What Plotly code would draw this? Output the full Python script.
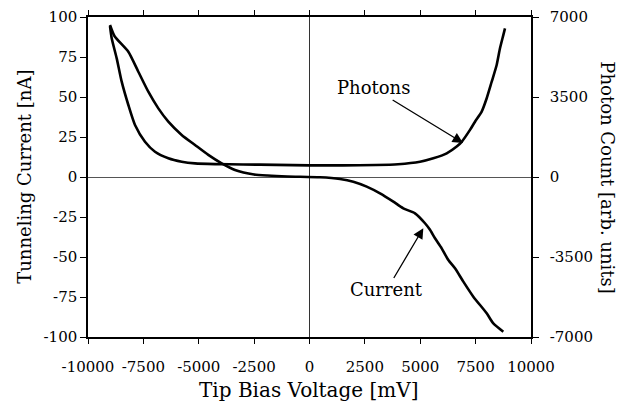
import plotly.graph_objects as go

# Tip bias voltage [mV] and tunneling current [nA]
current_v = [-9007, -8800, -8179, -7728, -7277, -6825, -6374, -5770, -5169, -4569,
             -3964, -3363, -2500, -1900, -1000, 474, 1377, 1978, 2582, 3183, 3784,
             4235, 4763, 5214, 5440, 5666, 5968, 6268, 6569, 6945, 7396, 8000,
             8299, 8750]
current_na = [95, 88, 78.3, 65.8, 53.3, 42.9, 34.6, 26.3, 20, 13.8,
              8.5, 4.4, 1.6, 0.9, 0.3, -0.2, -1.25, -2.9, -6, -10.2, -15.4,
              -19.6, -22.7, -28.9, -33, -38.3, -44.6, -51.9, -57.1, -65.4, -74.8, -85.2,
              -91.5, -96.7]

# Tip bias voltage [mV] and photon count [arb. units]
photon_v = [-9007, -8930, -8704, -8479, -8179, -7878, -7427, -6975, -6374, -5770,
            -5169, -4266, -3000, -1500, 0, 1500, 3000, 4000, 4989, 5590,
            6194, 6645, 6871, 7246, 7472, 7774, 8000, 8226, 8450, 8600, 8750, 8826]
photon_counts = [6600, 6070, 5190, 4170, 3150, 2275, 1540, 1105, 820, 670,
                 595, 565, 550, 530, 510, 510, 525, 560, 670, 820,
                 1035, 1330, 1540, 2060, 2420, 2860, 3445, 4170, 4900, 5630, 6210, 6500]

x_ticks = [-10000, -7500, -5000, -2500, 0, 2500, 5000, 7500, 10000]
x_tick_labels = ["-10000", "-7500", "-5000", "-2500", "0", "2500", "5000", "7500", "10000"]
y_ticks = [100, 75, 50, 25, 0, -25, -50, -75, -100]
y_tick_labels = ["100", "75", "50", "25", "0", "-25", "-50", "-75", "-100"]
y2_ticks = [7000, 3500, 0, -3500, -7000]
y2_tick_labels = ["7000", "3500", "0", "-3500", "-7000"]

FONT = "DejaVu Serif"

fig = go.Figure()
fig.add_trace(go.Scatter(x=current_v, y=current_na, mode="lines",
                         line=dict(color="black", width=2.6, shape="spline", smoothing=0.6),
                         name="Current", showlegend=False))
fig.add_trace(go.Scatter(x=photon_v, y=photon_counts, mode="lines", yaxis="y2",
                         line=dict(color="black", width=2.6, shape="spline", smoothing=0.6),
                         name="Photons", showlegend=False))

fig.update_layout(
    width=621, height=402, autosize=False,
    margin=dict(l=88, r=90, t=17, b=65, autoexpand=False),
    paper_bgcolor="white", plot_bgcolor="white",
    font=dict(family=FONT, size=15, color="black"),
    xaxis=dict(range=[-10000, 10000], tickvals=x_ticks, ticktext=x_tick_labels,
               showline=True, linecolor="black", linewidth=1.5, mirror="ticks",
               ticks="outside", ticklen=5, tickcolor="black", showgrid=False,
               zeroline=True, zerolinecolor="#333", zerolinewidth=1,
               ticklabelstandoff=10, automargin=False),
    yaxis=dict(range=[-100, 100], tickvals=y_ticks, ticktext=y_tick_labels,
               showline=True, linecolor="black", linewidth=1.5,
               ticks="outside", ticklen=6, tickcolor="black", showgrid=False,
               zeroline=True, zerolinecolor="#555", zerolinewidth=1,
               automargin=False),
    yaxis2=dict(range=[-7000, 7000], tickvals=y2_ticks, ticktext=y2_tick_labels,
                overlaying="y", side="right", showline=True, linecolor="black",
                linewidth=1.5, ticks="outside", ticklen=6, tickcolor="black",
                showgrid=False, zeroline=False, ticklabelstandoff=8,
                automargin=False),
    annotations=[
        dict(text="Tip Bias Voltage [mV]", xref="paper", yref="paper",
             x=0.498, y=-0.166, showarrow=False, font=dict(size=20),
             xanchor="center", yanchor="middle"),
        dict(text="Tunneling Current [nA]", xref="paper", yref="paper",
             x=-0.145, y=0.50, showarrow=False, font=dict(size=18),
             textangle=-90, xanchor="center", yanchor="middle"),
        dict(text="Photon Count [arb. units]", xref="paper", yref="paper",
             x=1.173, y=0.50, showarrow=False, font=dict(size=18),
             textangle=90, xanchor="center", yanchor="middle"),
        dict(text="Photons", x=6930, y=1490, xref="x", yref="y2",
             ax=2867, ay=3894, axref="x", ayref="y2", showarrow=True,
             arrowhead=2, arrowsize=1.6, arrowwidth=1.3, arrowcolor="black",
             font=dict(size=18)),
        dict(text="Current", x=5138, y=-32, xref="x", yref="y",
             ax=3485, ay=-70.6, axref="x", ayref="y", showarrow=True,
             arrowhead=2, arrowsize=1.6, arrowwidth=1.3, arrowcolor="black",
             font=dict(size=18)),
    ],
)

fig.write_html("out.html", config={"displayModeBar": False},
               post_script="document.body.style.margin='0';document.body.style.overflow='hidden';")
